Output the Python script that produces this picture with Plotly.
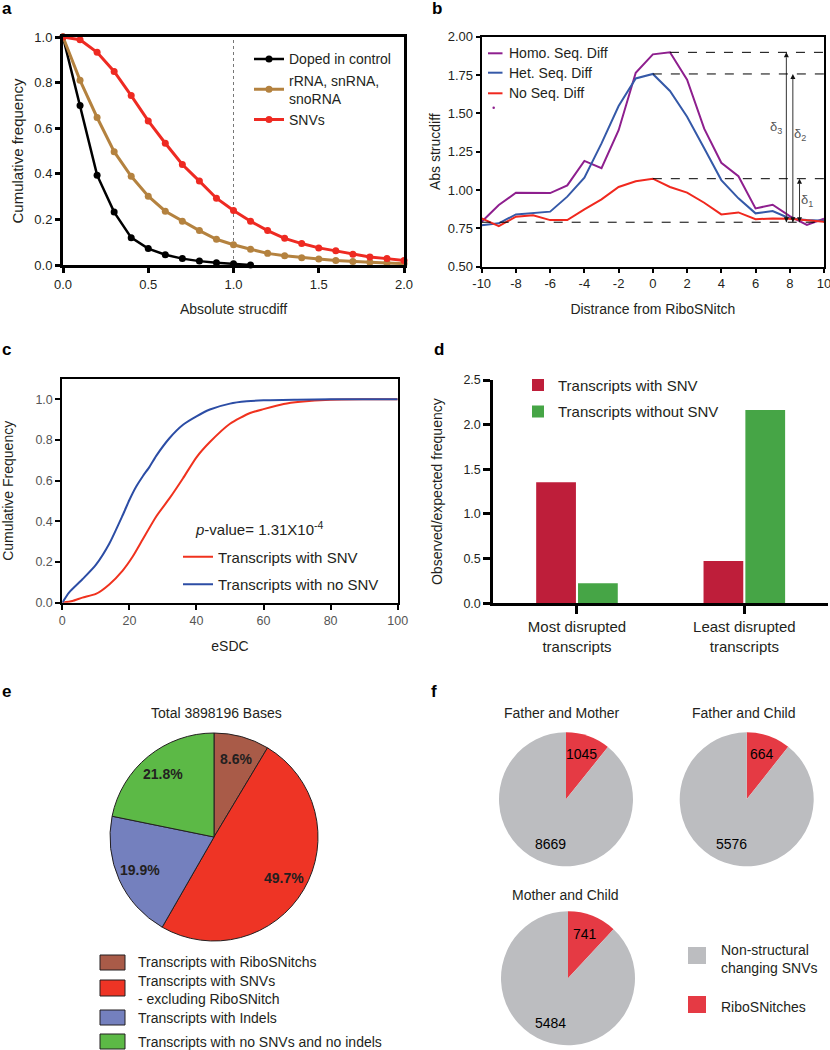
import math
import plotly.graph_objects as go

# ---------------- data ----------------
# panel a
a_x = [0.0, 0.1, 0.2, 0.3, 0.4, 0.5, 0.6, 0.7, 0.8, 0.9, 1.0,
       1.1, 1.2, 1.3, 1.4, 1.5, 1.6, 1.7, 1.8, 1.9, 2.0]
a_doped_x = [0.0, 0.1, 0.2, 0.3, 0.4, 0.5, 0.6, 0.7, 0.8, 0.9, 1.0, 1.1]
a_doped = [1.0, 0.70, 0.394, 0.232, 0.12, 0.072, 0.045, 0.028, 0.017, 0.010, 0.006, 0.0]
a_rrna = [1.0, 0.81, 0.647, 0.497, 0.389, 0.302, 0.236, 0.192, 0.151, 0.113, 0.089,
          0.069, 0.051, 0.041, 0.032, 0.026, 0.020, 0.015, 0.012, 0.009, 0.006]
a_snv = [1.0, 0.988, 0.933, 0.849, 0.743, 0.632, 0.534, 0.441, 0.368, 0.293, 0.239,
         0.192, 0.151, 0.117, 0.094, 0.075, 0.062, 0.047, 0.035, 0.028, 0.020]
a_cutoff = 1.0

# panel b
b_x = [-10, -9, -8, -7, -6, -5, -4, -3, -2, -1, 0, 1, 2, 3, 4, 5, 6, 7, 8, 9, 10]
b_ticks = [-10, -8, -6, -4, -2, 0, 2, 4, 6, 8, 10]
b_homo = [0.793, 0.902, 0.983, 0.980, 0.980, 1.030, 1.190, 1.143, 1.390, 1.765, 1.885,
          1.898, 1.720, 1.400, 1.178, 1.090, 0.880, 0.904, 0.830, 0.772, 0.813]
b_het = [0.770, 0.783, 0.841, 0.848, 0.859, 0.957, 1.080, 1.304, 1.548, 1.728, 1.757,
         1.646, 1.478, 1.272, 1.065, 0.946, 0.848, 0.863, 0.815, 0.804, 0.800]
b_no = [0.815, 0.765, 0.826, 0.835, 0.804, 0.804, 0.874, 0.939, 1.020, 1.057, 1.074,
        1.020, 0.983, 0.917, 0.841, 0.854, 0.810, 0.815, 0.813, 0.804, 0.793]
b_baseline = 0.79
b_stray_x = [-9.3]
b_stray_y = [1.537]
b_delta_x = [8.57, 8.18, 7.8]            # delta1, delta2, delta3 arrows
b_delta_label_x = [9.0, 8.62, 7.22]
b_delta_label_y = [0.935, 1.36, 1.41]

# panel c
c_blue_x = [0, 2, 6, 10, 14, 18, 20, 22, 24, 26, 28, 32, 36, 40, 44, 50, 55, 60, 70, 80, 100]
c_blue = [0, 0.05, 0.115, 0.186, 0.29, 0.43, 0.505, 0.57, 0.622, 0.668, 0.722, 0.81,
          0.875, 0.916, 0.95, 0.979, 0.99, 0.995, 0.998, 1.0, 1.0]
c_red_x = [0, 3, 6, 10, 14, 18, 21, 24, 28, 32, 36, 40, 44, 50, 56, 60, 66, 71, 80, 90, 100]
c_red = [0, 0.008, 0.025, 0.043, 0.09, 0.158, 0.227, 0.312, 0.424, 0.514, 0.612, 0.715,
         0.79, 0.88, 0.933, 0.952, 0.977, 0.988, 0.998, 1.0, 1.0]

# panel d
d_cats = ["Most disrupted<br>transcripts", "Least disrupted<br>transcripts"]
d_with = [1.354, 0.474]
d_without = [0.224, 2.164]

# panel e
e_labels = ["Transcripts with RiboSNitchs",
            "Transcripts with SNVs<br>- excluding RiboSNitch",
            "Transcripts with Indels",
            "Transcripts with no SNVs and no indels"]
e_values = [8.6, 49.7, 19.9, 21.8]
e_total = 3898196

# panel f
f_titles = ["Father and Mother", "Father and Child", "Mother and Child"]
f_ribo = [1045, 664, 741]
f_nonstruct = [8669, 5576, 5484]
f_labels = ["RiboSNitches", "Non-structural<br>changing SNVs"]

# ---------------- style ----------------
W, H = 830, 1050
FONT = "Liberation Sans"
TXT = "#231F20"


def X(px):
    return px / W


def Y(py):
    return 1 - py / H


fig = go.Figure()

# ---- panel a ----
a_series = [
    ("Doped in control", a_doped_x, a_doped, "#000000", 2.5),
    ("rRNA, snRNA,<br>snoRNA", a_x, a_rrna, "#B4823F", 3),
    ("SNVs", a_x, a_snv, "#EE2A22", 3),
]
for name, xs, ys, col, lw in a_series:
    fig.add_trace(go.Scatter(x=xs, y=ys, mode="lines+markers", name=name,
                             line=dict(color=col, width=lw),
                             marker=dict(size=7, color=col),
                             xaxis="x", yaxis="y", legend="legend", cliponaxis=False))
fig.add_shape(type="line", xref="x", yref="y", x0=a_cutoff, x1=a_cutoff, y0=0, y1=1,
              line=dict(color="#777777", width=1, dash="dot"), layer="below")

# ---- panel b ----
b_series = [
    ("Homo. Seq. Diff", b_homo, "#8E1F8E"),
    ("Het. Seq. Diff", b_het, "#3559A8"),
    ("No Seq. Diff", b_no, "#F0281E"),
]
for name, ys, col in b_series:
    fig.add_trace(go.Scatter(x=b_x, y=ys, mode="lines", name=name,
                             line=dict(color=col, width=2),
                             xaxis="x2", yaxis="y2", showlegend=False, cliponaxis=False))
fig.add_trace(go.Scatter(x=b_stray_x, y=b_stray_y, mode="markers",
                         marker=dict(size=2.5, color="#8E1F8E"),
                         xaxis="x2", yaxis="y2", showlegend=False))
fig.add_shape(type="line", xref="x2", yref="y2", x0=b_x[0], x1=b_x[-1],
              y0=b_baseline, y1=b_baseline, line=dict(color="black", width=1, dash="dash"))
peaks = []
for name, ys, col in b_series:
    m = max(ys)
    peaks.append(m)
    fig.add_shape(type="line", xref="x2", yref="y2", x0=b_x[ys.index(m)], x1=b_x[-1],
                  y0=m, y1=m, line=dict(color="black", width=1, dash="dash"))
delta_peaks = [peaks[2], peaks[1], peaks[0]]
for i, (xd, pk) in enumerate(zip(b_delta_x, delta_peaks)):
    fig.add_trace(go.Scatter(x=[xd, xd], y=[b_baseline, pk], mode="lines+markers",
                             line=dict(color="#333333", width=1),
                             marker=dict(symbol=["arrow-down", "arrow-up"], size=5,
                                         color="#111111"),
                             xaxis="x2", yaxis="y2", showlegend=False, cliponaxis=False,
                             hoverinfo="skip"))
    fig.add_annotation(x=b_delta_label_x[i], y=b_delta_label_y[i], xref="x2", yref="y2",
                       xanchor="center", yanchor="middle",
                       text="δ<sub>%d</sub>" % (i + 1), showarrow=False,
                       font=dict(family=FONT, size=13, color="#555555"))
b_leg_y = [53.3, 72.7, 93.3]
for (name, ys, col), ly in zip(b_series, b_leg_y):
    fig.add_shape(type="line", xref="paper", yref="paper", x0=X(488), x1=X(502.5),
                  y0=Y(ly), y1=Y(ly), line=dict(color=col, width=2))
    fig.add_annotation(x=X(507), y=Y(ly), xref="paper", yref="paper", text=name,
                       showarrow=False, xanchor="left", yanchor="middle",
                       font=dict(family=FONT, size=14, color=TXT))

# ---- panel c ----
fig.add_trace(go.Scatter(x=c_red_x, y=c_red, mode="lines", name="Transcripts with SNV",
                         line=dict(color="#F0321E", width=2, shape="spline", smoothing=0.6),
                         xaxis="x3", yaxis="y3", legend="legend2", legendgroup="c1"))
fig.add_trace(go.Scatter(x=c_blue_x, y=c_blue, mode="lines", name="Transcripts with no SNV",
                         line=dict(color="#2C4DA5", width=2, shape="spline", smoothing=0.6),
                         xaxis="x3", yaxis="y3", legend="legend2", legendgroup="c2"))
fig.add_annotation(x=X(193), y=Y(528), xref="paper", yref="paper", xanchor="left",
                   yanchor="middle",
                   text="<i>p</i>-value= 1.31X10<sup>-4</sup>", showarrow=False,
                   font=dict(family=FONT, size=15, color=TXT))

# ---- panel d ----
fig.add_trace(go.Bar(x=d_cats, y=d_with, name="Transcripts with SNV",
                     marker=dict(color="#BE1E3A", line=dict(width=0)),
                     xaxis="x4", yaxis="y4", legend="legend3", legendgroup="d1"))
fig.add_trace(go.Bar(x=d_cats, y=d_without, name="Transcripts without SNV",
                     marker=dict(color="#46A546", line=dict(width=0)),
                     xaxis="x4", yaxis="y4", legend="legend3", legendgroup="d2"))

# ---- panel e ----
e_colors = ["#A95B48", "#EE3425", "#7480BE", "#5CB946"]
e_cx, e_cy, e_r = 214, 837, 104
fig.add_trace(go.Pie(labels=e_labels, values=e_values, sort=False, direction="clockwise",
                     rotation=0, marker=dict(colors=e_colors, line=dict(color=TXT, width=1)),
                     textinfo="none", hoverinfo="label+percent", showlegend=False,
                     domain=dict(x=[X(e_cx - e_r), X(e_cx + e_r)], y=[Y(e_cy + e_r), Y(e_cy - e_r)])))
tot = sum(e_values)
cum = 0
for v in e_values:
    mid = (cum + v / 2) / tot * 2 * math.pi
    cum += v
    lx = e_cx + 0.78 * e_r * math.sin(mid)
    ly = e_cy - 0.78 * e_r * math.cos(mid)
    fig.add_annotation(x=X(lx), y=Y(ly), xref="paper", yref="paper", showarrow=False,
                       xanchor="center", yanchor="middle",
                       text="<b>%.1f%%</b>" % v, font=dict(family=FONT, size=14, color=TXT))
fig.add_annotation(x=X(216), y=Y(713), xref="paper", yref="paper", showarrow=False,
                   xanchor="center", yanchor="middle",
                   text="Total %d Bases" % e_total, font=dict(family=FONT, size=14, color=TXT))
e_sw = [(955, 970), (980, 996), (1010, 1025), (1034, 1049)]
e_ty = [962, 989.5, 1017.7, 1041.7]
for col, (y0, y1), lab, ty in zip(e_colors, e_sw, e_labels, e_ty):
    fig.add_shape(type="rect", xref="paper", yref="paper", x0=X(100), x1=X(125),
                  y0=Y(y1), y1=Y(y0), fillcolor=col, line=dict(color=TXT, width=1))
    fig.add_annotation(x=X(136), y=Y(ty), xref="paper", yref="paper", showarrow=False,
                       xanchor="left", yanchor="middle", align="left", text=lab,
                       font=dict(family=FONT, size=14, color=TXT))

# ---- panel f ----
f_colors = ["#E53A44", "#BCBDC0"]
f_centers = [(566, 799.3), (746.7, 799.3), (568, 978.3)]
f_r = 67
f_title_pos = [(562, 712.7), (744, 712.7), (565, 895.3)]
for k in range(3):
    cx, cy = f_centers[k]
    vals = [f_ribo[k], f_nonstruct[k]]
    fig.add_trace(go.Pie(labels=f_labels, values=vals, sort=False, direction="clockwise",
                         rotation=0, marker=dict(colors=f_colors, line=dict(width=0)),
                         textinfo="none", hoverinfo="label+value", showlegend=False,
                         domain=dict(x=[X(cx - f_r), X(cx + f_r)], y=[Y(cy + f_r), Y(cy - f_r)])))
    t = sum(vals)
    cum = 0
    for val in vals:
        ang = (cum + val / 2) / t * 2 * math.pi
        cum += val
        fig.add_annotation(x=X(cx + 0.71 * f_r * math.sin(ang)), y=Y(cy - 0.71 * f_r * math.cos(ang)),
                           xref="paper", yref="paper", showarrow=False, text=str(val),
                           xanchor="center", yanchor="middle",
                           font=dict(family=FONT, size=14, color="#000000"))
    tx, ty = f_title_pos[k]
    fig.add_annotation(x=X(tx), y=Y(ty), xref="paper", yref="paper", showarrow=False,
                       xanchor="center", yanchor="middle",
                       text=f_titles[k], font=dict(family=FONT, size=14, color=TXT))
f_sw = [(947, 964), (996, 1013)]
f_ty = [958.5, 1006.7]
for col, (y0, y1), lab, ty in zip([f_colors[1], f_colors[0]], f_sw, [f_labels[1], f_labels[0]], f_ty):
    fig.add_shape(type="rect", xref="paper", yref="paper", x0=X(688), x1=X(706),
                  y0=Y(y1), y1=Y(y0), fillcolor=col, line=dict(width=0))
    fig.add_annotation(x=X(719), y=Y(ty), xref="paper", yref="paper", showarrow=False,
                       xanchor="left", yanchor="middle", align="left", text=lab,
                       font=dict(family=FONT, size=14, color=TXT))

# ---- panel letters ----
for letter, lx, ly in (("a", 0, 8), ("b", 430, 8), ("c", 0, 350), ("d", 432, 350),
                       ("e", 0, 692), ("f", 429, 692)):
    fig.add_annotation(x=X(lx), y=Y(ly), xref="paper", yref="paper", showarrow=False,
                       xanchor="left", yanchor="middle", text="<b>%s</b>" % letter,
                       font=dict(family=FONT, size=17, color="#000000"))

# ---------------- axes ----------------
tickfont = dict(family=FONT, size=13, color=TXT)
titlefont = dict(family=FONT, size=14, color=TXT)


def frame_axis(**kw):
    base = dict(showline=True, linecolor="black", mirror=True, ticks="outside",
                tickcolor="black", showgrid=False, zeroline=False, tickfont=tickfont,
                automargin=False, ticklabeloverflow="allow")
    base.update(kw)
    return base


fig.update_layout(
    template="none",
    width=W, height=H, autosize=False,
    margin=dict(l=0, r=0, t=0, b=0, pad=0),
    paper_bgcolor="white", plot_bgcolor="white",
    font=dict(family=FONT, color=TXT, size=13),
    barmode="group", bargap=0.5, bargroupgap=0.05,
    xaxis=frame_axis(domain=[X(63), X(404)], anchor="y", range=[0, 2], dtick=0.5,
                     tickformat=".1f", linewidth=3, ticklen=5, tickwidth=2.5,
                     title=dict(text="Absolute strucdiff", font=titlefont, standoff=14)),
    yaxis=frame_axis(domain=[Y(265), Y(37)], anchor="x", range=[0, 1], dtick=0.2,
                     tickformat=".1f", linewidth=3, ticklen=5, tickwidth=2.5,
                     title=dict(text="Cumulative frequency", font=dict(family=FONT, size=15, color=TXT), standoff=8)),
    xaxis2=frame_axis(domain=[X(481.7), X(824)], anchor="y2", range=[-10, 10],
                      tickvals=b_ticks, ticktext=[str(t) for t in b_ticks],
                      linewidth=2, ticklen=4, tickwidth=2,
                      title=dict(text="Distrance from RiboSNitch", font=titlefont, standoff=14)),
    yaxis2=frame_axis(domain=[Y(266.7), Y(36.7)], anchor="x2", range=[0.5, 2.0], dtick=0.25,
                      tickformat=".2f", linewidth=2, ticklen=4, tickwidth=2,
                      title=dict(text="Abs strucdiff", font=titlefont, standoff=4)),
    xaxis3=frame_axis(domain=[X(62.3), X(397.7)], anchor="y3", range=[0, 100], dtick=20,
                      linewidth=2, ticklen=5, tickwidth=2,
                      tickfont=dict(family=FONT, size=12.5, color="#555555"),
                      title=dict(text="eSDC", font=titlefont, standoff=14)),
    yaxis3=frame_axis(domain=[Y(602.7), Y(379)], anchor="x3", range=[0, 1.1],
                      tickvals=[0, 0.2, 0.4, 0.6, 0.8, 1.0], tickformat=".1f",
                      linewidth=2, ticklen=5, tickwidth=2,
                      tickfont=dict(family=FONT, size=12.5, color="#555555"),
                      title=dict(text="Cumulative Frequency", font=titlefont, standoff=19)),
    xaxis4=dict(domain=[X(493.3), X(828)], anchor="y4", range=[-0.5, 1.5], showline=True,
                linecolor="black", linewidth=3, ticks="outside", ticklen=8, tickwidth=3,
                tickcolor="black", showgrid=False, zeroline=False, automargin=False,
                tickfont=dict(family=FONT, size=15, color=TXT)),
    yaxis4=dict(domain=[Y(603.3), Y(380)], anchor="x4", range=[0, 2.5], dtick=0.5,
                tickformat=".1f", showline=True, linecolor="black", linewidth=3,
                ticks="outside", ticklen=7, tickwidth=2.5, tickcolor="black",
                showgrid=False, zeroline=False, automargin=False,
                tickfont=dict(family=FONT, size=12.5, color=TXT),
                title=dict(text="Observed/expected frequency", font=titlefont, standoff=18)),
    legend=dict(x=X(249), y=Y(43.4), xanchor="left", yanchor="top",
                bgcolor="rgba(0,0,0,0)", borderwidth=0,
                font=dict(family=FONT, size=14, color=TXT)),
    legend2=dict(x=X(178), y=Y(540.5), xanchor="left", yanchor="top",
                 bgcolor="rgba(0,0,0,0)", borderwidth=0, tracegroupgap=5,
                 font=dict(family=FONT, size=15, color=TXT)),
    legend3=dict(x=X(518), y=Y(368.7), xanchor="left", yanchor="top",
                 bgcolor="rgba(0,0,0,0)", borderwidth=0, tracegroupgap=4,
                 font=dict(family=FONT, size=15, color=TXT)),
)

fig.write_html("out.html", config={"displayModeBar": False},
               post_script="document.body.style.margin='0px';document.body.style.padding='0px';")
